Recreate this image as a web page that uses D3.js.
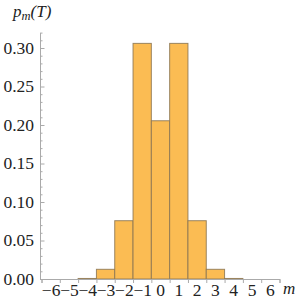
<!DOCTYPE html>
<html lang="en">
	<head>
		<meta charset="utf-8">
		<title>p_m(T)</title>
		<script src="https://d3js.org/d3.v7.min.js"></script>
		<style>
			body { margin: 0; background: #fff; }
			text { font-family: "Liberation Serif", "DejaVu Serif", serif; }
		</style>
	</head>
	<body>
		<script type="text/javascript">

			// data
			var ms = [-6, -5, -4, -3, -2, -1, 0, 1, 2, 3, 4, 5, 6];
			var probs = [0, 0, 0.0007, 0.0126, 0.0757, 0.306, 0.2055, 0.306, 0.0757, 0.0126, 0.0007, 0, 0];
			var yTicks = [0, 0.05, 0.10, 0.15, 0.20, 0.25, 0.30];

			var w = 300;
			var h = 300;

			var xScale = d3.scaleLinear()
				.domain([-6.5, 6.5])
				.range([41.5, 279.5]);

			var yScale = d3.scaleLinear()
				.domain([0, 0.32])
				.range([279, 32.6]);

			var svg = d3.select("body").append("svg")
				.attr("width", w).attr("height", h);

			// bars
			svg.selectAll("rect.bar")
				.data(ms)
				.enter()
				.append("rect")
				.attr("class", "bar")
				.attr("x", function(d) { return xScale(d - 0.5); })
				.attr("width", function(d) { return xScale(d + 0.5) - xScale(d - 0.5); })
				.attr("y", function(d, i) { return yScale(probs[i]); })
				.attr("height", function(d, i) { return yScale(0) - yScale(probs[i]); })
				.attr("fill", "#fbbc53")
				.attr("stroke", "#8a7452")
				.attr("stroke-opacity", 0.85)
				.attr("stroke-width", 1);

			// y axis
			var yAxis = d3.axisRight(yScale)
				.tickValues(d3.range(0, 0.321, 0.01))
				.tickSize(0)
				.tickFormat("");
			var gy = svg.append("g")
				.attr("transform", "translate(40,0)")
				.call(yAxis);
			gy.select(".domain").attr("stroke", "#aaa");
			gy.selectAll(".tick line")
				.attr("stroke", "#aaa")
				.attr("x2", function(d) { return Math.abs(d * 20 - Math.round(d * 20)) < 1e-6 ? 4.5 : 2.5; });

			svg.append("g").selectAll("text")
				.data(yTicks)
				.enter()
				.append("text")
				.attr("x", 34)
				.attr("y", function(d) { return yScale(d) + 5.5; })
				.attr("text-anchor", "end")
				.attr("font-size", 17.5)
				.attr("fill", "#222")
				.text(function(d) { return d.toFixed(2); });

			// x axis
			var xAxis = d3.axisBottom(xScale)
				.tickValues(d3.range(-6.5, 6.6, 1))
				.tickSize(4)
				.tickFormat("");
			var gx = svg.append("g")
				.attr("transform", "translate(0,279)")
				.call(xAxis);
			gx.select(".domain").attr("stroke", "#aaa");
			gx.selectAll(".tick line").attr("stroke", "#aaa");

			svg.append("g").selectAll("text")
				.data(ms)
				.enter()
				.append("text")
				.attr("x", function(d) { return xScale(d) + (d < 0 ? 0.5 : 0); })
				.attr("y", 296)
				.attr("text-anchor", "middle")
				.attr("font-size", 17.5)
				.attr("fill", "#222")
				.text(function(d) { return d < 0 ? "\u2212" + (-d) : d; });

			// axis labels
			var yl = svg.append("text")
				.attr("x", 13)
				.attr("y", 17)
				.attr("font-size", 17)
				.attr("font-style", "italic")
				.attr("fill", "#222");
			yl.append("tspan").text("p");
			yl.append("tspan").attr("font-size", 12.5).attr("dy", 3).text("m");
			yl.append("tspan").attr("dy", -3).text("(T)");

			svg.append("text")
				.attr("x", 283)
				.attr("y", 294)
				.attr("font-size", 17)
				.attr("font-style", "italic")
				.attr("fill", "#222")
				.text("m");

		</script>
	</body>
</html>
